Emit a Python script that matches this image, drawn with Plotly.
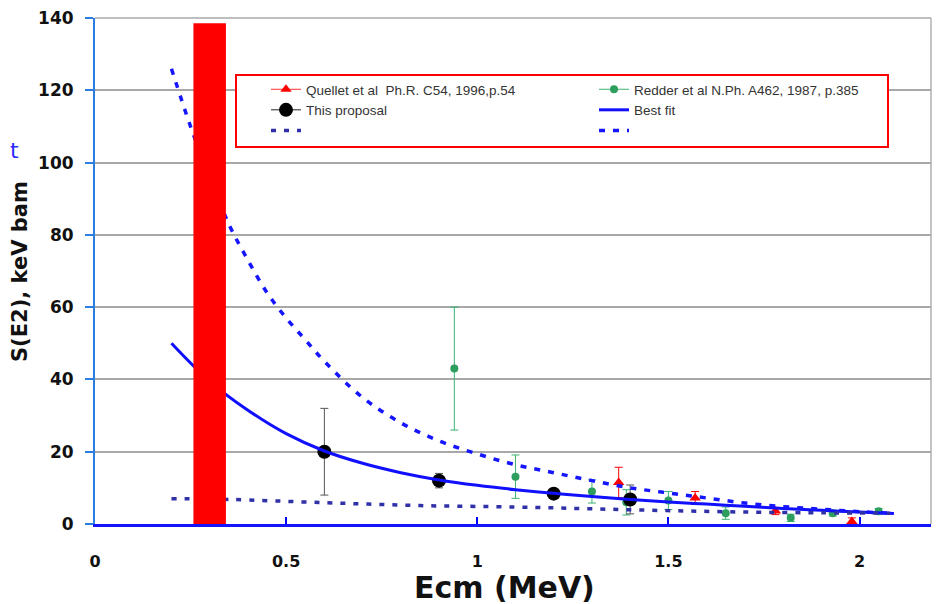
import plotly.graph_objects as go

# ---------------- data ----------------
quellet_x = [1.37, 1.57, 1.78, 1.98]
quellet_y = [11.5, 7.2, 3.6, 0.7]
quellet_err = [4.2, 1.8, 1.0, 1.0]

redder_x = [0.94, 1.10, 1.30, 1.39, 1.50, 1.65, 1.82, 1.93, 2.05]
redder_y = [43.0, 13.1, 9.0, 6.0, 6.5, 3.0, 1.7, 3.0, 3.5]
redder_err = [17.0, 6.0, 3.2, 3.5, 2.5, 1.7, 1.0, 0.8, 0.8]

proposal_x = [0.60, 0.90, 1.20, 1.40]
proposal_y = [20.0, 12.0, 8.4, 6.8]
proposal_err = [12.0, 2.0, 1.0, 4.0]

fit_x = [0.2, 0.3, 0.4, 0.5, 0.6, 0.7, 0.8, 0.9, 1.0, 1.1, 1.2, 1.3, 1.4,
         1.5, 1.6, 1.7, 1.8, 1.9, 2.0, 2.09]
fit_y = [50.0, 39.5, 31.5, 25.0, 20.2, 16.8, 14.2, 12.2, 10.7, 9.5, 8.5, 7.6,
         6.8, 6.1, 5.5, 4.9, 4.3, 3.8, 3.3, 2.9]

upper_x = [0.20, 0.25, 0.30, 0.35, 0.40, 0.45, 0.50, 0.55, 0.60, 0.70, 0.80,
           0.90, 1.00, 1.10, 1.20, 1.30, 1.40, 1.50, 1.60, 1.70, 1.80, 1.90,
           2.00, 2.08]
upper_y = [126, 110, 96, 83, 73, 64, 57, 51, 45, 35, 28, 23, 19.4, 16.4, 14.2,
           12.0, 10.0, 8.6, 7.2, 5.8, 4.8, 4.1, 3.4, 3.0]

lower_x = [0.20, 0.35, 0.60, 0.85, 1.10, 1.30, 1.50, 1.70, 1.90, 2.08]
lower_y = [7.0, 6.8, 5.9, 5.1, 4.7, 4.2, 3.7, 3.3, 3.1, 3.0]

band_center = [0.30]
band_width = [0.085]
band_height = [138.6]

x_ticks = [0, 0.5, 1, 1.5, 2]
x_tick_labels = ["0", "0.5", "1", "1.5", "2"]
y_ticks = [0, 20, 40, 60, 80, 100, 120, 140]

legend_names = ["Quellet et al  Ph.R. C54, 1996,p.54",
                "Redder et al N.Ph. A462, 1987, p.385",
                "This proposal", "Best fit", " ", "  "]


def gapped(xs, ys, es):
    gx, gy, ge = [], [], []
    for x, y, e in zip(xs, ys, es):
        gx += [x, None]
        gy += [y, None]
        ge += [e, 0]
    return gx[:-1], gy[:-1], ge[:-1]


fig = go.Figure()

qx, qy, qe = gapped(quellet_x, quellet_y, quellet_err)
fig.add_trace(go.Scatter(
    x=qx, y=qy, mode="lines+markers", name=legend_names[0], connectgaps=False,
    line=dict(color="#ff3030", width=1),
    marker=dict(symbol="triangle-up", size=10, color="#ff0000"),
    error_y=dict(type="data", array=qe, color="#ff0000", thickness=1, width=4)))

rx, ry, re_ = gapped(redder_x, redder_y, redder_err)
fig.add_trace(go.Scatter(
    x=rx, y=ry, mode="lines+markers", name=legend_names[1], connectgaps=False,
    line=dict(color="#3cb371", width=1),
    marker=dict(symbol="circle", size=8, color="#2e9e5e"),
    error_y=dict(type="data", array=re_, color="#3cb371", thickness=1, width=4)))

px_, py_, pe = gapped(proposal_x, proposal_y, proposal_err)
fig.add_trace(go.Scatter(
    x=px_, y=py_, mode="lines+markers", name=legend_names[2], connectgaps=False,
    line=dict(color="#222222", width=1),
    marker=dict(symbol="circle", size=14, color="#000000"),
    error_y=dict(type="data", array=pe, color="#555555", thickness=1, width=4)))

fig.add_trace(go.Scatter(
    x=fit_x, y=fit_y, mode="lines", name=legend_names[3],
    line=dict(color="#1010ff", width=3, shape="spline")))

fig.add_trace(go.Scatter(
    x=lower_x, y=lower_y, mode="lines", name=legend_names[4],
    line=dict(color="#3030a8", width=3.5, dash="5px,8px", shape="spline")))

fig.add_trace(go.Scatter(
    x=upper_x, y=upper_y, mode="lines", name=legend_names[5],
    line=dict(color="#1515ff", width=3.5, dash="6px,8px", shape="spline")))

# red band drawn on an overlaying axis pair so it sits above the curves
fig.add_trace(go.Bar(
    x=band_center, y=band_height, width=band_width, xaxis="x2", yaxis="y2",
    marker=dict(color="#ff0000", line=dict(width=0)), showlegend=False))

# page body has an 8px default margin: compensate
OFF = 8
W, H = 942 - OFF, 604 - OFF
L, R, T, B = 95 - OFF, 11, 18 - OFF, 80
pw, ph = W - L - R, H - T - B
Y_MAX = 140.02


def pxx(p):
    return (p - OFF - L) / pw


def pxy(p):
    return (OFF + T + ph - p) / ph


tick_font = dict(family="DejaVu Sans", size=17, color="#111111", weight="bold")

fig.update_layout(
    width=W, height=H,
    margin=dict(l=L, r=R, t=T, b=B, autoexpand=False),
    paper_bgcolor="white", plot_bgcolor="white",
    showlegend=True,
    xaxis=dict(range=[0, 2.187], tickvals=x_ticks, ticktext=x_tick_labels,
               ticks="inside", ticklen=7, tickwidth=2, tickcolor="#0000ff",
               showline=True, linecolor="#1414ff", linewidth=3,
               showgrid=False, zeroline=False, automargin=False,
               tickfont=dict(family="DejaVu Sans", size=16, color="#111111",
                             weight="bold"),
               ticklabelstandoff=21),
    yaxis=dict(range=[0, Y_MAX], tickvals=y_ticks,
               ticks="outside", ticklen=8, tickwidth=2, tickcolor="#2a7de1",
               showline=True, linecolor="#2a7de1", linewidth=2,
               showgrid=True, gridcolor="#a8a8a8", gridwidth=1.5,
               zeroline=False, automargin=False,
               tickfont=tick_font, ticklabelstandoff=8),
    xaxis2=dict(overlaying="x", range=[0, 2.187], visible=False,
                automargin=False),
    yaxis2=dict(overlaying="y", range=[0, Y_MAX], visible=False,
                automargin=False),
    legend=dict(orientation="h", x=pxx(266), y=pxy(74),
                xanchor="left", yanchor="top",
                bgcolor="rgba(0,0,0,0)", borderwidth=0,
                entrywidth=283, entrywidthmode="pixels",
                font=dict(family="Liberation Sans", size=13.5, color="#333333"),
                traceorder="normal"),
    shapes=[
        dict(type="line", xref="paper", yref="paper",
             x0=0, x1=1, y0=1, y1=1,
             line=dict(color="#a8a8a8", width=1.5), layer="below"),
        dict(type="rect", xref="paper", yref="paper",
             x0=pxx(236), x1=pxx(888), y0=pxy(147), y1=pxy(75),
             line=dict(color="#ff0000", width=2), fillcolor="white",
             layer="above"),
        dict(type="line", xref="paper", yref="paper",
             x0=1, x1=1, y0=0, y1=1,
             line=dict(color="#b0b0b0", width=1.5), layer="below"),
    ],
    annotations=[
        dict(text="Ecm (MeV)", xref="paper", yref="paper",
             x=pxx(504), y=pxy(587), xanchor="center", yanchor="middle",
             showarrow=False,
             font=dict(family="DejaVu Sans", size=30, color="#111111",
                       weight="bold")),
        dict(text="S(E2), keV bam", xref="paper", yref="paper",
             x=pxx(20), y=pxy(272), xanchor="center", yanchor="middle",
             textangle=-90, showarrow=False,
             font=dict(family="DejaVu Sans", size=21, color="#111111",
                       weight="bold")),
        dict(text="t", xref="paper", yref="paper",
             x=pxx(8), y=pxy(150), xanchor="left", yanchor="middle",
             showarrow=False,
             font=dict(family="DejaVu Sans", size=22, color="#2a2aff")),
    ],
)

fig.write_html("out.html")
